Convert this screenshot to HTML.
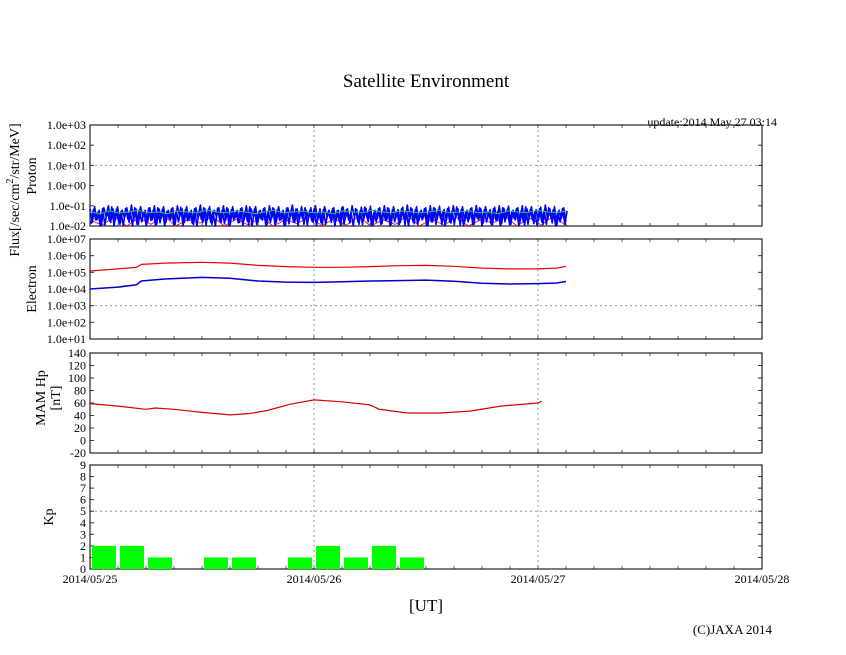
<!DOCTYPE html>
<html><head><meta charset="utf-8">
<style>
body{margin:0;background:#fff;}
svg{display:block;font-family:"Liberation Serif",serif;}
</style></head>
<body>
<svg id="c" width="846" height="655">
<text x="426" y="87" font-size="19" text-anchor="middle">Satellite Environment</text>
<text x="777" y="126" font-size="12" text-anchor="end">update:2014 May 27 03:14</text>
<text x="426" y="611" font-size="17" text-anchor="middle">[UT]</text>
<text x="772" y="634" font-size="13" text-anchor="end">(C)JAXA 2014</text>
<g transform="translate(19,190) rotate(-90)"><text x="0" y="0" font-size="14" text-anchor="middle">Flux[/sec/cm<tspan dy="-6" font-size="10">2</tspan><tspan dy="6">/str/MeV]</tspan></text></g>
<g transform="translate(36,176) rotate(-90)"><text font-size="14" text-anchor="middle">Proton</text></g>
<g transform="translate(36,289) rotate(-90)"><text font-size="14" text-anchor="middle">Electron</text></g>
<g transform="translate(45,398) rotate(-90)"><text font-size="14" text-anchor="middle">MAM Hp</text><text y="15" font-size="14" text-anchor="middle">[nT]</text></g>
<g transform="translate(53,517) rotate(-90)"><text font-size="14" text-anchor="middle">Kp</text></g>
</svg>
<script>
// ---- data ----
const dayLabels=["2014/05/25","2014/05/26","2014/05/27","2014/05/28"];
const protonTicks=["1.0e+03","1.0e+02","1.0e+01","1.0e+00","1.0e-01","1.0e-02"];
const electronTicks=["1.0e+07","1.0e+06","1.0e+05","1.0e+04","1.0e+03","1.0e+02","1.0e+01"];
const hpTicks=[140,120,100,80,60,40,20,0,-20];
const kpTicks=[9,8,7,6,5,4,3,2,1,0];
const kpValues=[2,2,1,0,1,1,0,1,2,1,2,1,0,0,0,0,0,0,0,0,0,0,0,0];
const hpHours=[0,3,6,7,9,12,15,17,19,21.4,24,27,30,31,34,37.5,40.7,44,48,48.4];
const hpValues=[59,55,50,52,50,45,41,43,48,58,65,62,57,50,44,44,47,55,60,63];
const elecHours=[0,3,5,5.5,8,12,15,18,21,24,27,30,33,36,39,42,45,48,50,51];
const elecRed=[1.2e5,1.6e5,2.0e5,3.0e5,3.6e5,4.0e5,3.6e5,2.6e5,2.2e5,2.0e5,2.0e5,2.2e5,2.5e5,2.6e5,2.3e5,1.8e5,1.6e5,1.6e5,1.8e5,2.3e5];
const elecBlue=[1.0e4,1.3e4,1.8e4,3.0e4,4.0e4,5.0e4,4.4e4,3.0e4,2.6e4,2.5e4,2.7e4,3.0e4,3.2e4,3.4e4,2.9e4,2.2e4,2.0e4,2.1e4,2.3e4,2.8e4];
const protonBlue=[0.07,0.015,0.09,0.02,0.06,0.012,0.08,0.03,0.1,0.015,0.07,0.02,0.09,0.012,0.06,0.025,0.08,0.015,0.11,0.02,0.07,0.012,0.09,0.03,0.06,0.015,0.08,0.02,0.1,0.012,0.07,0.025,0.09,0.015,0.06,0.02,0.08,0.012,0.1,0.03,0.07,0.015,0.09,0.02,0.06,0.012,0.08,0.025,0.11,0.015,0.07,0.02,0.09,0.012,0.06,0.03,0.08,0.015,0.1,0.02,0.07,0.012,0.09,0.025,0.06,0.015,0.08,0.02,0.1,0.012,0.07,0.03,0.09,0.015,0.06,0.02,0.08,0.012,0.1,0.025,0.07,0.015,0.09,0.02,0.06,0.012,0.08,0.03,0.11,0.015,0.07,0.02,0.09,0.012,0.06,0.025,0.08,0.015,0.1,0.02,0.07,0.012,0.09,0.03,0.06,0.015,
0.08,0.018,0.06,0.011,0.09,0.022,0.07,0.014,0.1,0.028,0.065,0.012,0.085,0.02,0.075,0.016,0.095,0.011,0.06,0.024,0.08,0.013,0.1,0.019,0.07,0.012,0.09,0.027,0.065,0.015,0.085,0.011,0.11,0.021,0.07,0.013,0.09,0.018,0.06,0.025,0.08,0.011,0.1,0.016,0.075,0.022,0.095,0.012,0.065,0.019,0.085,0.014,0.1,0.026,0.07,0.011,0.09,0.017,0.06,0.023,0.08,0.012,0.105,0.02,0.07,0.014,0.09,0.028,0.065,0.011,0.085,0.018,0.1,0.013,0.075,0.024,0.095,0.012,0.06,0.02,0.08,0.015,0.1,0.011,0.07,0.027,0.09,0.013,0.065,0.019,0.085,0.012,0.11,0.022,0.07,0.014,0.09,0.011,0.06,0.025,0.08,0.016];
const protonRed=[0.02,0.011,0.03,0.01,0.025,0.012,0.035,0.01,0.02,0.014,0.03,0.01,0.022,0.011,0.028,0.01,0.02,0.013,0.032,0.01,0.024,0.011,0.03,0.01,0.02,0.012,0.034,0.01,0.022,0.011,0.027,0.01,0.02,0.014,0.03,0.01,0.025,0.011,0.033,0.01];
const protonGreen=[0.05,0.04,0.055,0.045,0.05,0.06,0.045,0.05,0.04,0.055,0.05,0.045,0.06,0.05,0.045,0.055,0.05,0.04,0.05,0.06,0.045,0.05,0.055,0.045,0.05,0.04,0.055,0.05,0.045,0.06,0.05,0.045,0.055,0.05,0.045,0.05,0.06,0.045,0.05,0.055,0.045,0.05,0.04,0.055,0.05,0.045,0.06,0.05,0.045,0.055];
const dataEndHours=51;
// ---- layout ----
const svg=document.getElementById('c');const NS="http://www.w3.org/2000/svg";
const X0=90,X1=762;
const x=h=>X0+h*(X1-X0)/72;
function el(t,a,p){const e=document.createElementNS(NS,t);for(const k in a)e.setAttribute(k,a[k]);(p||svg).appendChild(e);return e;}
const panels={
 proton:{top:125,bot:226,ylog:true,lo:-2,hi:3},
 electron:{top:239,bot:339,ylog:true,lo:1,hi:7},
 hp:{top:353,bot:453,lo:-20,hi:140},
 kp:{top:465,bot:569,lo:0,hi:9}
};
function yf(p){return v=>{const t=p.ylog?(Math.log10(v)-p.lo)/(p.hi-p.lo):(v-p.lo)/(p.hi-p.lo);return p.bot-t*(p.bot-p.top);};}
function frame(name,p,ticks,gridVals,vals){
 const y=yf(p);
 const g=el('g',{});  
 [1,2].forEach(d=>el('line',{x1:x(d*24),x2:x(d*24),y1:p.top,y2:p.bot,stroke:'#999','stroke-dasharray':'2,3'},g));
 gridVals.forEach(v=>el('line',{x1:X0,x2:X1,y1:y(v),y2:y(v),stroke:'#999','stroke-dasharray':'2,3'},g));
 for(let h=3;h<72;h+=3){el('line',{x1:x(h),x2:x(h),y1:p.bot,y2:p.bot-3,stroke:'#555'},g);el('line',{x1:x(h),x2:x(h),y1:p.top,y2:p.top+3,stroke:'#555'},g);}
 ticks.forEach((t,i)=>{const v=vals[i];const yy=y(v);
  el('line',{x1:X0,x2:X0+4,y1:yy,y2:yy,stroke:'#333'},g);el('line',{x1:X1,x2:X1-4,y1:yy,y2:yy,stroke:'#333'},g);
  const tx=el('text',{x:X0-4,y:yy+4,'font-size':12,'text-anchor':'end'},g);tx.textContent=t;
  
  });
 el('rect',{x:X0,y:p.top,width:X1-X0,height:p.bot-p.top,fill:'none',stroke:'#222','stroke-width':1.2},g);
 return {g,y};
}
function line(g,hs,vs,y,color,name,w){const d=hs.map((h,i)=>(i?'L':'M')+x(h).toFixed(1)+','+y(vs[i]).toFixed(1)).join('');
 const pth=el('path',{d,fill:'none',stroke:color,'stroke-width':w||1.3,'stroke-linejoin':'round'},g);
 
 }
const spread=(arr)=>arr.map((_,i)=>i*dataEndHours/(arr.length-1));
// proton
let P=frame('proton',panels.proton,protonTicks,[10],protonTicks.map(Number));
line(P.g,spread(protonRed),protonRed,P.y,'#e00','proton-red-series',0.8);
line(P.g,spread(protonBlue),protonBlue.map(v=>Math.max(v,0.01)),P.y,'#00f','proton-blue-series',1.6);
line(P.g,spread(protonBlue).map(h=>h+0.12),protonBlue.map((v,i)=>Math.max(protonBlue[protonBlue.length-1-i]*0.8,0.01)),P.y,'#00f','proton-blue-series-2',1.6);
line(P.g,spread(protonGreen),protonGreen,P.y,'#2c4','proton-green-series',1);
// electron
let E=frame('electron',panels.electron,electronTicks,[1e3],electronTicks.map(Number));
line(E.g,elecHours,elecRed,E.y,'#e00','electron-red-series',1.2);
line(E.g,elecHours,elecBlue,E.y,'#00c','electron-blue-series',1.5);
// hp
let H=frame('hp',panels.hp,hpTicks.map(String),[],hpTicks);
line(H.g,hpHours,hpValues,H.y,'#d00','hp-series',1.2);
// kp
let K=frame('kp',panels.kp,kpTicks.map(String),[5],kpTicks);
kpValues.forEach((v,i)=>{if(v<=0)return;const r=el('rect',{x:x(i*3)+2,y:K.y(v),width:x(3)-x(0)-4,height:K.y(0)-K.y(v),fill:'#0f0'},K.g);
 
 });
dayLabels.forEach((l,i)=>{const t=el('text',{x:x(i*24),y:583,'font-size':12,'text-anchor':'middle'});t.textContent=l;
 
 });
</script>
</body></html>
